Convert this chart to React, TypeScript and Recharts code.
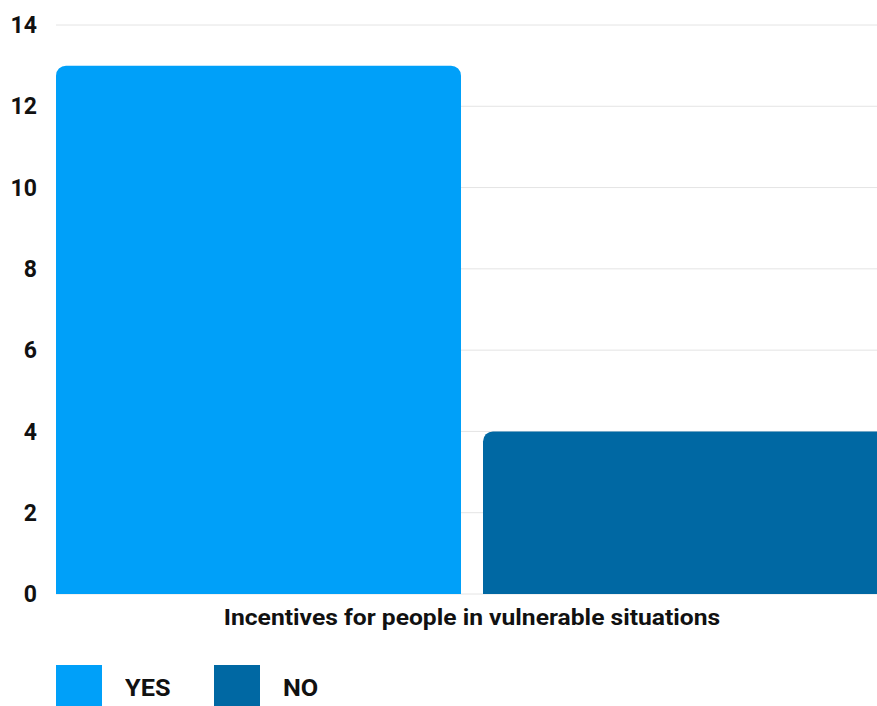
import React from 'react';
import { BarChart, Bar, XAxis, YAxis, CartesianGrid, Legend } from 'recharts';

const categories = ['Incentives for people in vulnerable situations'];
const yesValues = [13];
const noValues = [4];
const yTicks = [0, 2, 4, 6, 8, 10, 12, 14];
const seriesOrder = ['YES', 'NO'];

const YES_COLOR = '#00a0f9';
const NO_COLOR = '#0068a3';
const TEXT_COLOR = '#111';
// the source picture is a little wider than tall, so text is stretched sideways
const STRETCH = 1.12;

const data = categories.map((name, i) => ({
  name,
  yes: yesValues[i],
  no: noValues[i],
}));

const XTick = (props: any) => {
  const { x, y, payload } = props;
  return (
    <g transform={`translate(${x},${y}) scale(${STRETCH},1)`}>
      <text x={0} y={0} dy="0.71em" textAnchor="middle" fontSize={22} fontWeight={700} fill={TEXT_COLOR}>
        {payload.value}
      </text>
    </g>
  );
};

const renderLegend = (props: any) => {
  const items = [...(props.payload || [])].sort(
    (a: any, b: any) => seriesOrder.indexOf(a.value) - seriesOrder.indexOf(b.value)
  );
  return (
    <div style={{ display: 'flex', alignItems: 'center', height: 46, paddingLeft: 56 }}>
      {items.map((entry: any) => (
        <div key={entry.value} style={{ display: 'flex', alignItems: 'center' }}>
          <span style={{ width: 46, height: 46, background: entry.color, display: 'inline-block' }} />
          <span
            style={{
              marginLeft: 23,
              width: 66,
              fontSize: 23,
              fontWeight: 700,
              color: TEXT_COLOR,
              display: 'inline-block',
              transform: 'scaleX(1.1)',
              transformOrigin: 'left center',
            }}
          >
            {entry.value}
          </span>
          <span style={{ width: 23, display: 'inline-block' }} />
        </div>
      ))}
    </div>
  );
};

const App: React.FC = () => {
  return (
    <div
      style={{
        position: 'fixed',
        left: 0,
        top: 0,
        width: 877,
        height: 706,
        overflow: 'hidden',
        background: '#fff',
        fontFamily: 'Roboto, sans-serif',
      }}
    >
      <BarChart
        width={900}
        height={720}
        data={data}
        margin={{ top: 25, right: 12, left: 0, bottom: 9 }}
        barCategoryGap={0}
        barGap={22}
      >
        <CartesianGrid vertical={false} stroke="#e4e4e4" />
        <XAxis
          dataKey="name"
          height={71}
          axisLine={false}
          tickLine={false}
          tickSize={0}
          tickMargin={15}
          tick={<XTick />}
        />
        <YAxis
          width={56}
          domain={[0, 14]}
          ticks={yTicks}
          axisLine={false}
          tickLine={false}
          tickSize={0}
          tickMargin={19}
          tick={{ fontSize: 23, fontWeight: 700, fill: TEXT_COLOR }}
        />
        <Legend verticalAlign="bottom" align="left" content={renderLegend} />
        <Bar dataKey="yes" name="YES" fill={YES_COLOR} radius={[10, 10, 0, 0]} isAnimationActive={false} />
        <Bar dataKey="no" name="NO" fill={NO_COLOR} radius={[10, 10, 0, 0]} isAnimationActive={false} />
      </BarChart>
    </div>
  );
};

export default App;
